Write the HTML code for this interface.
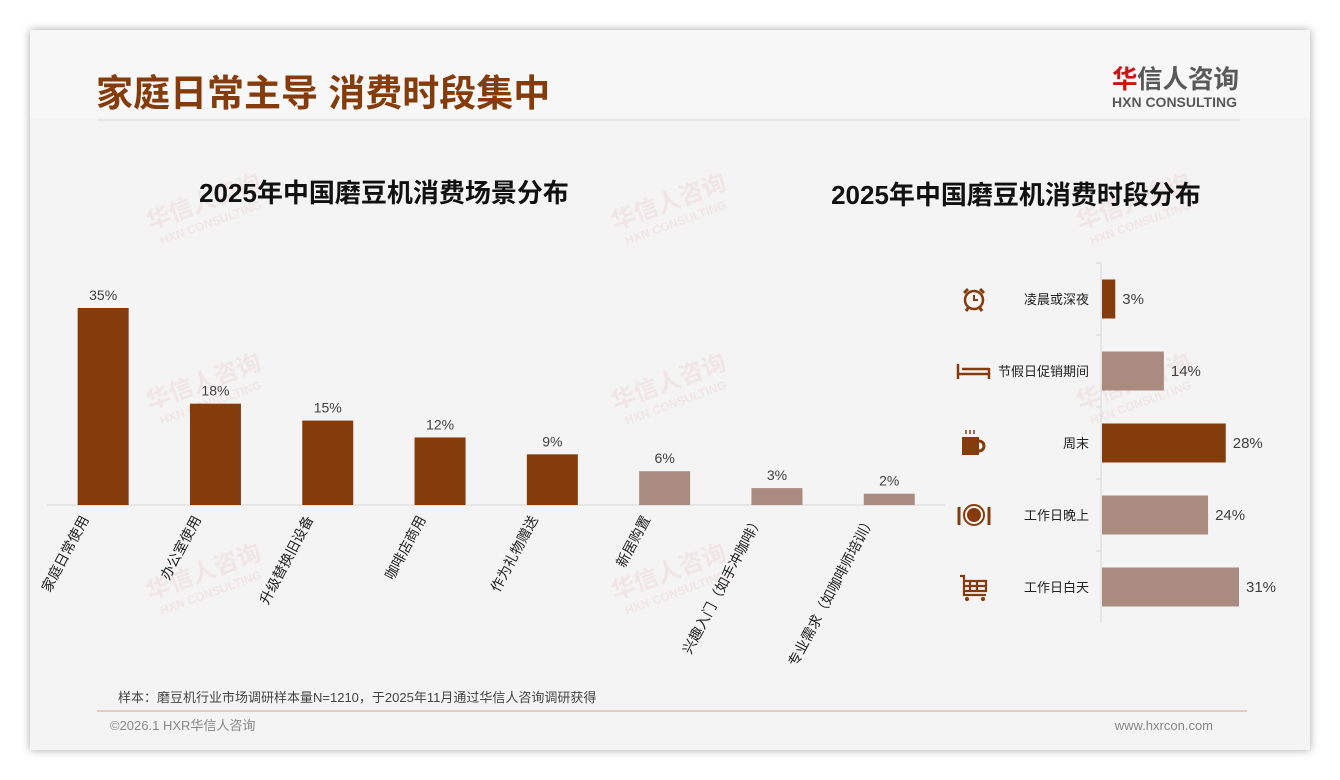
<!DOCTYPE html>
<html><head><meta charset="utf-8"><style>
html,body{margin:0;padding:0;background:#fff;}
body{width:1340px;height:780px;position:relative;overflow:hidden;font-family:"Liberation Sans","Noto Sans CJK SC",sans-serif;}
#card{position:absolute;left:30px;top:30px;width:1280px;height:720px;background:#f4f4f4;box-shadow:0 0 8px rgba(0,0,0,0.35);}
</style></head><body>
<div id="card"></div>
<svg width="1340" height="780" style="position:absolute;left:0;top:0">
<rect x="30" y="30" width="1280" height="88" fill="#f7f7f7"/>
<text x="96" y="106" font-size="37" font-weight="bold" fill="#843c0c" font-family="Liberation Sans,Noto Sans CJK SC,sans-serif">家庭日常主导 消费时段集中</text>
<line x1="97" y1="120" x2="1240" y2="120" stroke="#d8d8d8"/>
<g font-family="Liberation Sans,Noto Sans CJK SC,sans-serif" font-weight="bold">
<text x="1112" y="88" font-size="25.5" fill="#cc1414">华</text>
<text x="1137" y="88" font-size="25.5" fill="#595959">信人咨询</text>
<text x="1112" y="107" font-size="14" fill="#595959">HXN CONSULTING</text>
</g>
<g id="wm" fill="#e8b8b8" opacity="0.22" font-weight="bold" font-family="Liberation Sans,Noto Sans CJK SC,sans-serif"></g>
<text x="384" y="202" font-size="26" font-weight="bold" text-anchor="middle" fill="#111" font-family="Liberation Sans,Noto Sans CJK SC,sans-serif">2025年中国磨豆机消费场景分布</text>
<text x="1016" y="204" font-size="26" font-weight="bold" text-anchor="middle" fill="#111" font-family="Liberation Sans,Noto Sans CJK SC,sans-serif">2025年中国磨豆机消费时段分布</text>
<g id="left"></g>
<g id="right"></g>
<text x="118" y="702" font-size="13" fill="#444" font-family="Liberation Sans,Noto Sans CJK SC,sans-serif">样本：磨豆机行业市场调研样本量N=1210，于2025年11月通过华信人咨询调研获得</text>
<line x1="97" y1="711" x2="1247" y2="711" stroke="#c9a896"/>
<text x="110" y="730" font-size="13" fill="#888" font-family="Liberation Sans,Noto Sans CJK SC,sans-serif">©2026.1 HXR华信人咨询</text>
<text x="1213" y="730" font-size="13" fill="#888" text-anchor="end">www.hxrcon.com</text>
</svg>
<script>
const sceneCats=["家庭日常使用","办公室使用","升级替换旧设备","咖啡店商用","作为礼物赠送","新居购置","兴趣入门（如手冲咖啡）","专业需求（如咖啡师培训）"];
const sceneVals=[35,18,15,12,9,6,3,2];
const sceneLabels=["35%","18%","15%","12%","9%","6%","3%","2%"];
const timeCats=["凌晨或深夜","节假日促销期间","周末","工作日晚上","工作日白天"];
const timeVals=[3,14,28,24,31];
const timeLabels=["3%","14%","28%","24%","31%"];
const NS="http://www.w3.org/2000/svg";
const FF="Liberation Sans,Noto Sans CJK SC,sans-serif";
function mk(t,a,p){const e=document.createElementNS(NS,t);for(const k in a)e.setAttribute(k,a[k]);p.appendChild(e);return e;}
const DARK="#843c0c",LIGHT="#a98b80";
const wm=document.getElementById('wm');
[[150,230],[615,230],[1080,230],[150,410],[615,410],[1080,410],[150,600],[615,600]].forEach(p=>{
 const g=mk('g',{transform:`translate(${p[0]},${p[1]}) rotate(-20)`},wm);
 
 
 mk('text',{x:0,y:0,'font-size':24},g).textContent='华信人咨询';
 mk('text',{x:6,y:18,'font-size':12},g).textContent='HXN CONSULTING';
});
const L=document.getElementById('left');
const base=505,pxPer=197/35,x0=47,step=112.3,bw=51;
const xc=i=>x0+step*(i+0.5), yv=v=>base-v*pxPer;
mk('line',{x1:47,y1:base,x2:945,y2:base,stroke:'#d9d9d9'},L);
sceneVals.forEach((v,i)=>{
 const r=mk('rect',{x:xc(i)-bw/2,y:yv(v),width:bw,height:base-yv(v),fill:i<5?DARK:LIGHT},L);
 
 
 const t=mk('text',{x:xc(i),y:yv(v)-8,'font-size':14,'text-anchor':'middle',fill:'#404040','font-family':FF},L);
 t.textContent=sceneLabels[i];
 
 
 const c=mk('text',{x:0,y:0,'font-size':14,'text-anchor':'end',fill:'#222','font-family':FF,transform:`translate(${xc(i)-14},${base+14}) rotate(-62)`},L);
 c.textContent=sceneCats[i];
 
 
});
const R=document.getElementById('right');
const ax=1101,rTop=263,rowH=72,bh=39,px2=137/31;
const yc=i=>rTop+36+rowH*i;
mk('line',{x1:ax,y1:rTop,x2:ax,y2:rTop+rowH*5-1,stroke:'#d9d9d9'},R);
timeVals.forEach((v,i)=>{
 mk('line',{x1:ax-5,y1:rTop+rowH*i,x2:ax,y2:rTop+rowH*i,stroke:'#d9d9d9'},R);
 const r=mk('rect',{x:ax+1,y:yc(i)-bh/2,width:v*px2,height:bh,fill:(i==0||i==2)?DARK:LIGHT},R);
 
 
 const t=mk('text',{x:ax+v*px2+8,y:yc(i)+5,'font-size':15,fill:'#404040','font-family':FF},R);
 t.textContent=timeLabels[i];
 
 
 const c=mk('text',{x:1089,y:yc(i)+5,'font-size':13,'text-anchor':'end',fill:'#222','font-family':FF},R);
 c.textContent=timeCats[i];
 
 
});
function icon(i,draw){const g=mk('g',{transform:`translate(974,${yc(i)})`,fill:DARK,stroke:DARK},R);draw(g);}
icon(0,g=>{mk('circle',{cx:0,cy:1,r:9,fill:'none','stroke-width':2.5},g);mk('path',{d:'M0 -4 V1 H4',fill:'none','stroke-width':2},g);mk('path',{d:'M-10 -6 L-6 -10 M10 -6 L6 -10 M-6 9 L-8 12 M6 9 L8 12','stroke-width':3},g);});
icon(1,g=>{mk('path',{d:'M-16 -7 V8 M15 -3 V8 M-16 3 H15 M-12 -2 H15','stroke-width':2.5,fill:'none'},g);});
icon(2,g=>{mk('rect',{x:-12,y:-6,width:17,height:18,stroke:'none'},g);mk('path',{d:'M5 -2 a5 5 0 0 1 0 10','stroke-width':3,fill:'none'},g);mk('path',{d:'M-8 -13 v4 M-4 -13 v4 M0 -13 v4','stroke-width':1.5},g);});
icon(3,g=>{mk('circle',{cx:0,cy:0,r:10,fill:'none','stroke-width':2},g);mk('circle',{cx:0,cy:0,r:7,stroke:'none'},g);mk('path',{d:'M-15 -8 V10 M15 -8 V10','stroke-width':3},g);});
icon(4,g=>{mk('path',{d:'M-14 -11 H-10 V8 H12 M-10 -6 H12 V4 H-10 M-4 -6 V4 M3 -6 V4 M-10 -1 H12','stroke-width':2.2,fill:'none'},g);mk('circle',{cx:-7,cy:12,r:2,stroke:'none'},g);mk('circle',{cx:9,cy:12,r:2,stroke:'none'},g);});
</script>
</body></html>
